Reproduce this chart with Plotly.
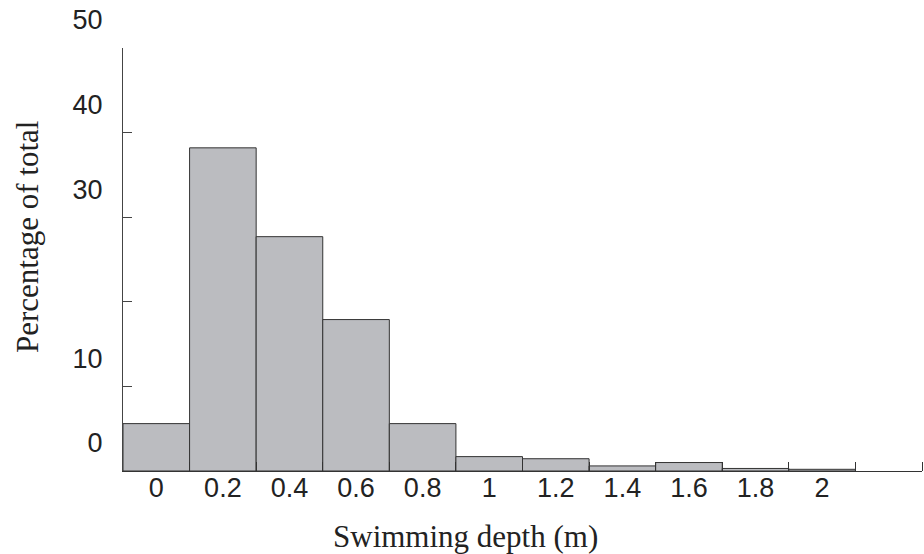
import plotly.graph_objects as go

# Data
depth_bins = [0, 0.2, 0.4, 0.6, 0.8, 1.0, 1.2, 1.4, 1.6, 1.8, 2.0]
percentages = [5.6, 38.2, 27.7, 17.9, 5.6, 1.7, 1.45, 0.6, 1.0, 0.3, 0.2]
x_tick_vals = [0, 0.2, 0.4, 0.6, 0.8, 1.0, 1.2, 1.4, 1.6, 1.8, 2.0]
x_tick_text = ["0", "0.2", "0.4", "0.6", "0.8", "1", "1.2", "1.4", "1.6", "1.8", "2"]
bin_edges = [0.1, 0.3, 0.5, 0.7, 0.9, 1.1, 1.3, 1.5, 1.7, 1.9, 2.1, 2.3]
y_tick_vals = [0, 10, 20, 30, 40, 50]
y_tick_text = ["0", "10", "", "30", "40", "50"]

fig = go.Figure()
fig.add_trace(go.Bar(
    x=depth_bins, y=percentages, width=0.2,
    marker=dict(color="#bbbcc0", line=dict(color="#333333", width=1)),
    showlegend=False, hoverinfo="skip",
))

fig.update_layout(
    width=924, height=554,
    margin=dict(l=123, r=2, t=48, b=83),
    paper_bgcolor="white", plot_bgcolor="white",
    font=dict(family="Liberation Sans, Arial, sans-serif", color="#222222"),
    xaxis=dict(
        range=[-0.1, 2.3], showgrid=False, zeroline=False,
        showline=True, linecolor="#333333", linewidth=1,
        tickmode="array", tickvals=x_tick_vals, ticktext=x_tick_text,
        ticks="", tickfont=dict(size=27, family="Liberation Sans, Arial, sans-serif"),
        ticklabelstandoff=-7,
        minor=dict(tickmode="array", tickvals=bin_edges, ticks="inside",
                   ticklen=9, tickcolor="#333333", tickwidth=1, showgrid=False),
    ),
    yaxis=dict(
        range=[0, 50], showgrid=False, zeroline=False,
        showline=True, linecolor="#444444", linewidth=1,
        tickmode="array", tickvals=y_tick_vals, ticktext=y_tick_text,
        ticks="inside", ticklen=9, tickcolor="#444444", tickwidth=1,
        tickfont=dict(size=27, family="Liberation Sans, Arial, sans-serif"),
        ticklabelshift=-28, ticklabelstandoff=14,
    ),
    annotations=[
        dict(text="Swimming depth (m)", xref="paper", yref="paper",
             x=(465 - 123) / 799, y=-(536 - 471) / 423, xanchor="center", yanchor="middle",
             showarrow=False, font=dict(size=31, family="Liberation Serif, Times New Roman, serif", color="#222222")),
        dict(text="Percentage of total", xref="paper", yref="paper",
             x=-(123 - 27) / 799, y=(471 - 237) / 423, xanchor="center", yanchor="middle",
             textangle=-90, showarrow=False,
             font=dict(size=31, family="Liberation Serif, Times New Roman, serif", color="#222222")),
    ],
)

fig.write_html("out.html", config={"displayModeBar": False},
               post_script="document.body.style.margin='0';")
